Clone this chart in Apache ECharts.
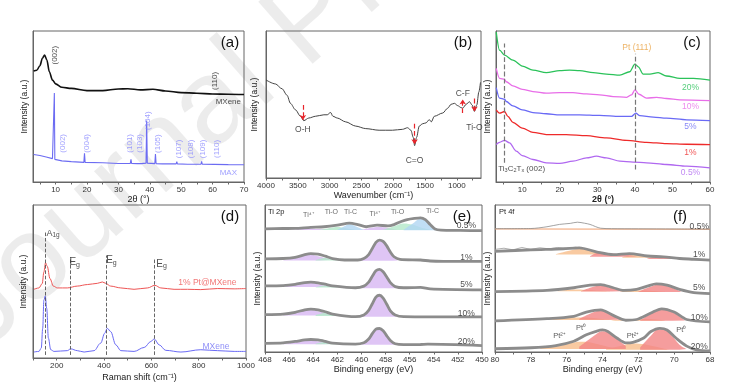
<!DOCTYPE html>
<html><head><meta charset="utf-8">
<script src="https://cdn.jsdelivr.net/npm/echarts@6/dist/echarts.min.js"></script>
<style>html,body{margin:0;padding:0;background:#fff}#c{width:732px;height:385px}</style>
</head><body><div id="c"></div>
<script>
// ---------- (a) XRD ----------
const aMxeneX = [3, 4, 5, 5.8, 6.5, 7.2, 8, 9, 10, 12, 15, 20, 25, 30, 33, 37, 41, 45, 50, 55, 60, 65, 70];
const aMxeneY = [73.5, 74, 77, 82, 84, 81, 73, 67.5, 65, 62.7, 62, 60.5, 60.5, 61.6, 61.8, 61, 61.4, 60.3, 59.2, 58.8, 58.3, 58.1, 57.9];
const aMaxX = [3, 5, 7, 9, 9.45, 9.6, 9.75, 12, 15, 19, 19.2, 19.4, 25, 30, 33.8, 34, 34.2, 36, 37.3, 37.5, 37.7, 38.8, 39, 39.2, 41.6, 41.8, 42, 44, 48.4, 48.6, 48.8, 52, 56.3, 56.5, 56.7, 60.5, 65, 70];
const aMaxY = [18.2, 17.5, 16.5, 15.5, 15, 59, 15, 14, 13.5, 13, 19, 13, 12.7, 12.3, 12.3, 15, 12.3, 12.2, 12.2, 13.5, 12.2, 12.5, 40.8, 12.5, 12.2, 18.6, 12.2, 12, 12, 13.4, 12, 11.8, 11.8, 13.6, 11.8, 11.7, 11.5, 11.4];
const aMaxLabels = ['(002)', '(004)', '(101)', '(103)', '(104)', '(105)', '(107)', '(108)', '(109)', '(110)'];
const aMaxLabelX = [12.2, 19.9, 33.7, 36.9, 39.3, 42.4, 49.3, 53, 56.8, 61.3];
const aMaxLabelY = [25.6, 25.6, 25.6, 25.6, 40.6, 25.4, 21.9, 21.9, 21.9, 21.9];
const aTicks = [10, 20, 30, 40, 50, 60, 70];

// ---------- (b) FTIR ----------
const bX = [4000, 3853, 3748, 3669, 3616, 3537, 3458, 3406, 3327, 3221, 3090, 3037, 2985, 2948, 2880, 2748, 2590, 2432, 2222, 2012, 1854, 1775, 1722, 1685, 1664, 1633, 1591, 1538, 1485, 1433, 1401, 1354, 1222, 1143, 1091, 1038, 986, 933, 907, 854, 802, 760, 723, 686, 654, 628];
const bY = [66.7, 64, 60.7, 56.3, 50.8, 46.4, 42, 39, 40.8, 42, 43, 43, 44.6, 42, 40.8, 38.2, 35.3, 33.6, 32.5, 32.5, 33.1, 34.2, 32.5, 27.6, 22, 27.6, 35.3, 36.9, 37.5, 39.7, 38.2, 42, 44.2, 47.5, 50.1, 50.8, 49.2, 47.9, 47.5, 50.1, 51.9, 49.7, 45.3, 49.7, 58.5, 65.1];
const bBands = ['O-H', 'C=O', 'C-F', 'Ti-O'];
const bBandX = [3420, 1664, 907, 723];
const bArrowFrom = [49.7, 36.9, 44.2, 54];
const bArrowTo = [39.5, 23, 53.4, 45.3];
const bBandLabelY = [33.1, 12.1, 57.4, 34.2];
const bTicks = [1000, 1500, 2000, 2500, 3000, 3500, 4000];

// ---------- (c) XRD Pt@MXene ----------
const cGreenX = [3.06, 3.95, 5.28, 7.5, 10, 12.85, 16.4, 19.96, 22.6, 25.3, 28.9, 32.4, 36, 38.6, 40, 40.9, 42.2, 44, 46.2, 48.4, 52, 55.6, 60];
const cGreenY = [99.3, 87.3, 84, 80.7, 76.8, 74.1, 72.4, 73.7, 74.1, 73.7, 72.4, 71.5, 70.8, 73, 78.1, 76.3, 71.5, 71.5, 72.4, 70.2, 68.6, 68.6, 67.5];
const cMagX = [3.06, 3.95, 5.28, 5.73, 7.5, 10, 12.85, 16.4, 19.96, 23.5, 27.1, 30.6, 34.2, 37.8, 39.1, 40, 41.1, 43.1, 45.8, 48.4, 52, 60];
const cMagY = [75.2, 68.6, 68, 66.4, 63.6, 61.4, 59.9, 58.8, 59.2, 59.2, 58.3, 57.7, 56.6, 56.1, 57.7, 61, 58.1, 55.5, 56.1, 55.3, 54.4, 53.9];
const cBlueX = [3.06, 3.95, 5.28, 5.73, 7.5, 10, 12.85, 16.4, 19.96, 25.3, 30.6, 36, 39.1, 40.25, 41.3, 44.9, 48.4, 53.8, 60];
const cBlueY = [62.5, 55.5, 54.8, 53.3, 50.4, 47.8, 46, 45.2, 44.5, 44.5, 44.1, 43.4, 43.4, 45.6, 43.9, 43, 42.3, 41.2, 40.6];
const cRedX = [3.06, 3.95, 5.28, 6.17, 7.5, 10, 12.85, 16.4, 21.7, 27.1, 32.4, 37.8, 43.1, 48.4, 53.8, 60];
const cRedY = [47.8, 45.6, 46.7, 43.4, 39.5, 35.7, 32.9, 31.4, 31.4, 30.7, 29.2, 27.6, 26.3, 25.4, 25, 24.8];
const cPurX = [3.06, 3.95, 5.28, 6.6, 8.4, 10, 12.85, 16.4, 19.96, 23.5, 27.1, 29.75, 32.4, 36, 39.5, 43.1, 48.4, 53.8, 60];
const cPurY = [24.8, 26.3, 27.6, 25.9, 20.4, 17.5, 14.9, 12.7, 12.3, 13.8, 16, 17.1, 16, 13.8, 13.2, 12.7, 11.6, 10.5, 9.4];
const cSamples = ['20%', '10%', '5%', '1%', '0.5%'];
const cSampleLabelY = [62.7, 49.6, 36.4, 19.7, 6.1];
const cRefLineX = [5.3, 40];
const cRefLineY0 = [12.7, 8.3];
const cRefLineY1 = [91.7, 85];
const cTicks = [10, 20, 30, 40, 50, 60];

// ---------- (d) Raman ----------
const dRedX = [104, 125, 139, 146, 153, 160, 172, 186, 203, 245, 287, 330, 372, 393, 407, 428, 471, 527, 584, 615, 640, 696, 753, 809, 880, 950, 1000];
const dRedY = [44.9, 45.8, 48.6, 56.2, 62.2, 60, 51.8, 47, 45.8, 45.8, 47, 48, 48.8, 49.7, 48.8, 47, 45.8, 44.9, 45.8, 47.5, 45.8, 44.9, 44.9, 44.7, 45.4, 45.2, 45.4];
const dBlueX = [104, 125, 135, 141, 146, 152, 158, 165, 175, 189, 245, 259, 287, 316, 358, 386, 403, 414, 428, 450, 471, 527, 570, 598, 612, 633, 661, 725, 809, 880, 950, 1000];
const dBlueY = [3.9, 4.3, 6.5, 19.4, 37.8, 40.6, 32.4, 13, 5.4, 4.3, 4.8, 6, 4.8, 3.9, 4.8, 9.7, 16.2, 19.4, 17.3, 8.6, 4.8, 4.3, 6.9, 10.8, 12.5, 8.6, 5, 3.9, 5.4, 4.8, 4.3, 4.3];
const dModeX = [150, 257, 409, 612];
const dModeTop = [83, 66, 67, 64.8];
const dModeLabelX = [169, 266, 421, 633];
const dModeLabelY = [81.6, 62.6, 63.7, 61.5];
const dTicks = [200, 400, 600, 800, 1000];

// ---------- (e) Ti 2p XPS ----------
const eEnv05X = [468, 466.5, 465.5, 464.2, 463.1, 462, 461, 460.3, 459.6, 458.7, 457.8, 457.3, 456.7, 456.2, 455.6, 455.1, 454.7, 454.3, 453.9, 453.4, 451.8, 450];
const eEnv05Y = [83.7, 84, 84.1, 84.8, 85.2, 86.3, 87.7, 86.7, 85.2, 86.3, 85.8, 86.7, 88.8, 90.1, 90.9, 91.3, 90.1, 86.7, 83.7, 82.9, 82.7, 82.5];
const eEnv1X = [468, 466.5, 465.5, 464.7, 464.2, 463.6, 463, 462.4, 461.4, 460.3, 459.8, 459.4, 459.1, 458.8, 458.5, 458.2, 457.9, 457.6, 457.3, 456.8, 455.1, 454.3, 453.2, 450];
const eEnv1Y = [63.4, 63.6, 64.4, 66.2, 66.9, 66.6, 65.2, 63.6, 62.6, 62.6, 63.6, 66.3, 70.4, 74.6, 76.1, 75.2, 72.2, 68, 64.8, 63, 62.6, 61.9, 61.7, 61.7];
const eEnv5X = [468, 466.5, 465.5, 464.7, 464.2, 463.6, 463, 462.4, 460.5, 459.8, 459.4, 459.1, 458.8, 458.5, 458.2, 457.9, 457.6, 457.2, 456.5, 455.1, 454.3, 450];
const eEnv5Y = [45, 45.2, 46, 47.2, 47.5, 47.1, 46.1, 45, 43.7, 44.8, 47.5, 51.5, 55.2, 56.2, 54.6, 51, 47.2, 44.5, 43.7, 44, 43, 42.3];
const eEnv10X = [468, 466.5, 465.5, 464.7, 464.2, 463.6, 463, 462.4, 460.5, 459.8, 459.4, 459.1, 458.8, 458.5, 458.2, 457.9, 457.6, 457.2, 456.5, 455.1, 450];
const eEnv10Y = [25.4, 25.8, 27, 28.7, 29.2, 28.7, 27.4, 25.8, 24, 25.2, 28.3, 32.8, 37.3, 38.6, 36.7, 32.5, 28, 25.2, 24, 23.9, 23.9];
const eEnv20X = [468, 466.5, 465.5, 464.7, 464.2, 463.6, 463, 462.4, 460.5, 459.8, 459.4, 459.1, 458.8, 458.5, 458.2, 457.9, 457.6, 457.2, 456.5, 455.1, 454.5, 450];
const eEnv20Y = [5.9, 6.2, 7.2, 8.2, 8.5, 8.2, 7.2, 6, 5.4, 6.3, 8.8, 12.5, 15.6, 16, 14.5, 11, 7.8, 5.6, 5, 5.1, 5.3, 4.4];
// filled components, one [x,y] list per peak, each with the baseline it fills to
const ePurple = [
  [[466, 83], [465, 83.6], [464.3, 84], [463.5, 83.6], [462.5, 83]],
  [[460, 83], [459.2, 84.5], [458.6, 85], [457.8, 84.3], [457, 83]],
  [[466.5, 62.5], [465.5, 64], [464.5, 66.3], [463.5, 65], [462.5, 62.8]],
  [[460, 62.3], [459.4, 65.8], [459, 71], [458.6, 75.2], [458.2, 74.6], [457.8, 70.5], [457.4, 64.8], [457, 62.3]],
  [[466.5, 44.5], [465.5, 45.8], [464.5, 47.2], [463.5, 46], [462.5, 44.5]],
  [[460, 43.5], [459.4, 47], [459, 52.5], [458.6, 55.6], [458.2, 54.2], [457.8, 49.5], [457.3, 44.8], [457, 43.5]],
  [[466.5, 25], [465.5, 26.8], [464.5, 28.8], [463.5, 27.5], [462.5, 25]],
  [[460, 24], [459.4, 28], [459, 34.5], [458.6, 38], [458.2, 36.2], [457.8, 30.5], [457.3, 25.3], [457, 24]],
  [[466.5, 5.5], [465.5, 7], [464.5, 8.2], [463.5, 7.2], [462.5, 5.5]],
  [[460, 5], [459.4, 8.5], [459, 14], [458.6, 15.8], [458.2, 14], [457.8, 9.5], [457.3, 5.5], [457, 5]]
];
const ePurpleBase = [83, 83, 62.3, 62, 44.3, 43.4, 24.8, 23.9, 5.3, 4.9];
const eGreen = [
  [[463.5, 83], [462.5, 84.5], [462, 85], [461.3, 84.2], [460.5, 83]],
  [[458.2, 83], [457.3, 85.5], [456.5, 87.5], [455.7, 86.5], [455, 84.5], [454.2, 83]],
  [[463.8, 62.5], [463, 64], [462.3, 63], [461.5, 62.5]],
  [[463.8, 44], [463, 45.3], [462.3, 44.5], [461.5, 44]],
  [[463.8, 25], [463, 26.5], [462.3, 25.5], [461.5, 24.5]],
  [[463.8, 5.5], [463, 6.8], [462.3, 6], [461.5, 5.3]]
];
const eGreenBase = [83, 83, 62.3, 43.8, 24.5, 5.2];
const eBlue = [
  [[462, 83], [461.3, 86], [461, 87], [460.5, 85.5], [459.8, 83]],
  [[456.5, 83], [455.8, 87], [455.1, 90.5], [454.6, 89], [454, 85], [453.5, 83]],
  [[456, 62], [455.2, 62.8], [454.5, 62]],
  [[456, 43.5], [455.2, 44.2], [454.5, 43.3]]
];
const eBlueBase = [83, 82.8, 61.9, 43.3];
const eSamples = ['0.5%', '1%', '5%', '10%', '20%'];
const eSampleLabelY = [85.8, 64.3, 45.5, 26, 6.8];
const eCompNames = ['Ti⁴⁺', 'Ti-O', 'Ti-C', 'Ti⁴⁺', 'Ti-O', 'Ti-C'];
const eCompX = [464.4, 462.5, 460.9, 458.9, 457, 454.1];
const eCompY = [93.2, 95, 95, 94, 95.5, 95.8];
const eTicks = [450, 452, 454, 456, 458, 460, 462, 464, 466, 468];

// ---------- (f) Pt 4f XPS ----------
const fRaw05X = [80, 78, 77.1, 76.4, 75.8, 75.4, 75, 74.7, 74.1, 73.5, 72, 70, 68];
const fRaw05Y = [83.9, 84, 85.2, 86.8, 87.5, 88.3, 87.6, 86.8, 84.2, 83.9, 83.8, 83.7, 83.6];
const fRaw1X = [80, 79.5, 79, 78.5, 78, 77.5, 77, 76.5, 76, 75.5, 75, 74.5];
const fRaw1Y = [69.8, 70.6, 69.5, 71.1, 69.8, 70.9, 70.2, 71.1, 70.6, 71.3, 70.2, 68.4];
const fEnv1X = [80, 78, 76.2, 75.3, 74.3, 73.4, 72.5, 71.5, 70.6, 69.7, 68.9, 68];
const fEnv1Y = [68.4, 69.5, 70.2, 70.9, 68, 66.2, 66.9, 65.3, 64.7, 63.6, 63.1, 62.5];
const fEnv5X = [80, 77.1, 75.6, 74.7, 74.1, 73.4, 72.8, 72.1, 71.5, 71, 70.4, 69.7, 68.9, 68];
const fEnv5Y = [41.1, 41.9, 43.7, 45.5, 45.9, 43.7, 41.9, 42.6, 44.8, 46.4, 45.5, 42.6, 40.4, 39.7];
const fEnv10X = [80, 77.1, 75.6, 74.9, 74.1, 73.4, 72.7, 72.1, 71.3, 70.7, 70, 69.3, 68];
const fEnv10Y = [21.2, 22.7, 24.3, 27.2, 28.7, 24.9, 21.6, 22.1, 26.5, 29.4, 27.2, 22.1, 20.5];
const fEnv20X = [80, 78, 76.6, 75.6, 74.9, 74.4, 74, 73.7, 73.2, 72.7, 72.3, 71.7, 71.3, 70.8, 70.4, 69.9, 69.3, 68.7, 68];
const fEnv20Y = [2.2, 2.9, 4.4, 7.3, 11.7, 13.9, 15, 13.9, 9.5, 6.2, 6.6, 9.5, 13.9, 16.1, 15, 9.5, 4, 1.3, 0.7];
const fRed = [
  [[74.7, 65.2], [74.2, 67.6], [73.5, 67], [72.8, 66.3], [72.1, 65]],
  [[71.5, 63.5], [70.8, 64.9], [70.2, 64.4], [69.4, 63.2]],
  [[75.2, 41.3], [74.6, 44], [74.1, 45.2], [73.5, 43.5], [72.9, 41.3]],
  [[72, 41], [71.4, 44], [70.9, 45.8], [70.3, 44.5], [69.6, 40.8]],
  [[75.3, 22.5], [74.7, 26], [74.1, 28.2], [73.5, 25.5], [72.8, 22]],
  [[71.9, 21.5], [71.3, 26], [70.7, 29], [70.1, 27], [69.4, 21.5]],
  [[75.3, 3.5], [74.7, 9], [74.2, 13.5], [74, 14.2], [73.7, 13.5], [73.2, 9], [72.7, 4]],
  [[71.9, 3], [71.3, 11], [70.9, 15.3], [70.6, 15.3], [70.2, 12], [69.7, 5], [69.3, 2]]
];
const fRedBase = [64.8, 63.2, 41.2, 40.8, 22, 21.3, 2, 1.5];
const fOrange = [
  [[76.6, 66.6], [75.8, 69], [75.2, 70.2], [74.6, 69], [74, 66.3]],
  [[72.9, 64.4], [72.3, 66], [71.7, 65.8], [71.1, 64.2]],
  [[76.5, 41.5], [75.5, 42.5], [74.5, 42], [73.5, 41.2]],
  [[73, 41.2], [72.2, 42], [71.2, 41.5], [70.5, 40.9]],
  [[77, 22], [76, 23.3], [75, 23.5], [74, 22.5], [73, 21.8]],
  [[73.5, 21.5], [72.5, 22.3], [71.5, 22.4], [70.5, 21.3]],
  [[77.5, 2.5], [76.5, 4], [75.6, 6.5], [75, 7], [74.3, 5.5], [73.5, 3], [73, 2]],
  [[73.8, 2], [73, 4], [72.4, 5.8], [71.8, 5.5], [71, 3.5], [70.3, 1.5]]
];
const fOrangeBase = [66.4, 64.2, 41.3, 40.9, 21.8, 21.2, 2, 1.5];
const fSamples = ['0.5%', '1%', '5%', '10%', '20%'];
const fSampleLabelY = [85.3, 66.5, 43.7, 23.5, 3.5];
const fPtNames = ['Pt²⁺', 'Pt⁰', 'Pt²⁺', 'Pt⁰'];
const fPtX = [76.4, 75.2, 72.3, 69.6];
const fPtY = [11, 16.6, 11, 15];
const fTicks = [68, 70, 72, 74, 76, 78, 80];

// ================= build =================
const FONT = '"Liberation Sans", Arial, sans-serif';
const P = (xs, ys) => xs.map((x, i) => [x, ys[i]]);
const range = (a, b, s) => { const r = []; for (let v = a; v <= b + 1e-9; v += s) r.push(+v.toFixed(3)); return r; };

const gridBoxes = [
  [33, 31, 211, 151], [266, 31, 215, 147], [496, 31, 214, 151],
  [33, 205, 213, 153], [265, 205, 217, 147], [495, 205, 215, 147]
];
const grid = gridBoxes.map(b => ({ left: b[0], top: b[1], width: b[2], height: b[3], show: true, borderColor: '#666', borderWidth: 1 }));

function xAxis(gi, min, max, labels, ticks, name, inverse) {
  return {
    gridIndex: gi, type: 'value', min, max, inverse: !!inverse, splitLine: { show: false },
    axisLine: { show: true, onZero: false, lineStyle: { color: '#666', width: 1 } },
    axisTick: { show: true, length: 2.5, customValues: ticks, lineStyle: { color: '#666' } },
    axisLabel: { fontSize: 8, color: '#333', margin: 4, fontFamily: FONT, customValues: labels, hideOverlap: false, formatter: v => String(v) },
    name, nameLocation: 'middle', nameGap: 13,
    nameTextStyle: { fontSize: 9, color: '#222', fontFamily: FONT }
  };
}
function yAxis(gi, gap) {
  return {
    gridIndex: gi, type: 'value', min: 0, max: 100,
    axisLine: { show: true, lineStyle: { color: '#666' } }, axisTick: { show: false },
    axisLabel: { show: false }, splitLine: { show: false },
    name: 'Intensity (a.u.)', nameLocation: 'middle', nameGap: gap, nameRotate: 90,
    nameTextStyle: { fontSize: 8.5, color: '#222', fontFamily: FONT }
  };
}
const xAxes = [
  xAxis(0, 2.8, 70, aTicks, range(5, 70, 5), '2θ (°)'),
  xAxis(1, 620, 4000, bTicks, range(750, 4000, 250), 'Wavenumber (cm⁻¹)', true),
  xAxis(2, 3, 60, cTicks, range(5, 60, 5), '2θ (°)'),
  xAxis(3, 100, 1000, dTicks, range(100, 1000, 100), 'Raman shift (cm⁻¹)'),
  xAxis(4, 450, 468, eTicks, eTicks, 'Binding energy (eV)', true),
  xAxis(5, 68, 80, fTicks, range(68, 80, 1), 'Binding energy (eV)', true)
];
xAxes[2].nameTextStyle.fontWeight = 'bold';
xAxes[3].nameGap = 15;
const yAxes = [yAxis(0, 4), yAxis(1, 7), yAxis(2, 4), yAxis(3, 5), yAxis(4, 3), yAxis(5, 3)];

function line(gi, data, color, w, extra) {
  return Object.assign({
    type: 'line', xAxisIndex: gi, yAxisIndex: gi, data, symbol: 'none', showSymbol: false,
    lineStyle: { color, width: w }, itemStyle: { color }, silent: true, z: 3
  }, extra || {});
}
function area(gi, data, color, origin) {
  return line(gi, data, color, 0, {
    smooth: 0.4, z: 2, lineStyle: { width: 0, color },
    areaStyle: { color, opacity: 0.8, origin }
  });
}
function txt(gi, x, y, text, opt) {
  return {
    type: 'scatter', xAxisIndex: gi, yAxisIndex: gi, data: [[x, y]], symbolSize: 0, silent: true, z: 6,
    label: Object.assign({ show: true, position: 'inside', formatter: text, fontSize: 8, color: '#333', fontFamily: FONT }, opt || {})
  };
}
function vlines(gi, xs, y0s, y1s, color, arrow, w) {
  return line(gi, [], color, 1, {
    markLine: {
      silent: true, animation: false, symbol: arrow ? ['none', 'arrow'] : ['none', 'none'], symbolSize: 5,
      label: { show: false }, lineStyle: { type: 'dashed', color, width: w || 1 },
      data: xs.map((x, i) => [{ coord: [x, y0s[i]] }, { coord: [x, y1s[i]] }])
    }
  });
}

const S = [];
// (a)
S.push(line(0, P(aMxeneX, aMxeneY), '#111', 1.6, { smooth: 0.3, smoothMonotone: 'x' }));
S.push(line(0, P(aMaxX, aMaxY), '#6c6cf2', 1.1));
S.push(txt(0, 9.9, 84, '(002)', { rotate: 90, color: '#222' }));
S.push(txt(0, 60.7, 66.9, '(110)', { rotate: 90, color: '#222' }));
S.push(txt(0, 65, 53.2, 'MXene', { color: '#222' }));
aMaxLabels.forEach((t, i) => S.push(txt(0, aMaxLabelX[i], aMaxLabelY[i], t, { rotate: 90, color: '#8a8aff' })));
S.push(txt(0, 65, 6.2, 'MAX', { color: '#8a8aff' }));

// (b)
S.push(line(1, P(bX, bY), '#444', 1, { smooth: 0.3, smoothMonotone: 'x' }));
S.push(vlines(1, bBandX, bArrowFrom, bArrowTo, '#e8242a', true, 1.2));
bBands.forEach((t, i) => S.push(txt(1, bBandX[i], bBandLabelY[i], t, { color: '#222', fontSize: 8.5 })));

// (c)
const cCols = ['#2bc25a', '#e86ee8', '#6a6af5', '#ee2a2a', '#b068f0'];
[[cGreenX, cGreenY], [cMagX, cMagY], [cBlueX, cBlueY], [cRedX, cRedY], [cPurX, cPurY]].forEach((d, i) =>
  S.push(line(2, P(d[0], d[1]), cCols[i], 1.3, { smooth: 0.3, smoothMonotone: 'x' })));
S.push(vlines(2, cRefLineX, cRefLineY0, cRefLineY1, '#777', false, 1.2));
cSamples.forEach((t, i) => S.push(txt(2, 54.8, cSampleLabelY[i], t, { color: cCols[i], fontSize: 8.5 })));
S.push(txt(2, 40.5, 88.8, 'Pt (111)', { color: '#e8a040', fontSize: 8.5 }));
S.push(txt(2, 3.6, 8.8, '{n|Ti}{s|3}{n|C}{s|2}{n|T}{s|x}{n| (002)}', {
  position: 'right', distance: 0, color: '#222',
  rich: { n: { fontSize: 8, color: '#222', fontFamily: FONT }, s: { fontSize: 5.5, color: '#222', verticalAlign: 'bottom', padding: [4, 0, 0, 0], fontFamily: FONT } }
}));

// (d)
S.push(line(3, P(dRedX, dRedY), '#ee5555', 1, { smooth: 0.35, smoothMonotone: 'x' }));
S.push(line(3, P(dBlueX, dBlueY), '#6a6af5', 1, { smooth: 0.35, smoothMonotone: 'x' }));
S.push(vlines(3, dModeX, dModeX.map(() => 2), dModeTop, '#555', false, 0.9));
const richSub = { n: { fontSize: 10, color: '#222', fontFamily: FONT }, s: { fontSize: 7, color: '#222', padding: [5, 0, 0, 0], fontFamily: FONT } };
S.push(txt(3, dModeLabelX[0] - 12, dModeLabelY[0], '{n|A}{s|1g}', { position: 'right', distance: 0, rich: { n: { fontSize: 9, color: '#222', fontFamily: FONT }, s: { fontSize: 6.5, color: '#222', padding: [4, 0, 0, 0], fontFamily: FONT } } }));
for (let i = 1; i < 4; i++) S.push(txt(3, dModeLabelX[i] - 12, dModeLabelY[i], '{n|E}{s|g}', { position: 'right', distance: 0, rich: richSub }));
S.push(txt(3, 837, 49.2, '1% Pt@MXene', { color: '#ee5555', fontSize: 8.5 }));
S.push(txt(3, 873, 7.6, 'MXene', { color: '#7070f5', fontSize: 8.5 }));

// (e)
ePurple.forEach((d, i) => S.push(area(4, d, '#d7b6f3', ePurpleBase[i])));
eGreen.forEach((d, i) => S.push(area(4, d, '#b3e9c9', eGreenBase[i])));
eBlue.forEach((d, i) => S.push(area(4, d, '#b0d6f2', eBlueBase[i])));
[[eEnv05X, eEnv05Y], [eEnv1X, eEnv1Y], [eEnv5X, eEnv5Y], [eEnv10X, eEnv10Y], [eEnv20X, eEnv20Y]].forEach(d =>
  S.push(line(4, P(d[0], d[1]), '#8c8c8c', 2.8, { smooth: 0.25, z: 4 })));
eSamples.forEach((t, i) => S.push(txt(4, 451.3, eSampleLabelY[i], t, { color: '#222', fontSize: 8.5 })));
eCompNames.forEach((t, i) => S.push(txt(4, eCompX[i], eCompY[i], t, { color: '#444', fontSize: 7 })));

// (f)
fOrange.forEach((d, i) => S.push(area(5, d, '#f7bd8a', fOrangeBase[i])));
fRed.forEach((d, i) => S.push(area(5, d, '#f28484', fRedBase[i])));
S.push(line(5, [[80, 83.7], [68, 83.5]], '#f0a070', 1));
S.push(line(5, P(fRaw05X, fRaw05Y), '#8c8c8c', 0.8, { smooth: 0.3 }));
S.push(line(5, P(fRaw1X, fRaw1Y), '#9a9a9a', 0.8));
[[fEnv1X, fEnv1Y], [fEnv5X, fEnv5Y], [fEnv10X, fEnv10Y], [fEnv20X, fEnv20Y]].forEach(d =>
  S.push(line(5, P(d[0], d[1]), '#8c8c8c', 2.8, { smooth: 0.3, z: 4 })));
fSamples.forEach((t, i) => S.push(txt(5, 68.6, fSampleLabelY[i], t, { color: '#222', fontSize: 8.5 })));
fPtNames.forEach((t, i) => S.push(txt(5, fPtX[i], fPtY[i], t, { color: '#333', fontSize: 7.5 })));

const panelLetters = [['(a)', 230, 43], ['(b)', 463, 43], ['(c)', 692, 43], ['(d)', 230, 217], ['(e)', 462, 217], ['(f)', 680, 217]];
const graphic = [{
  type: 'text', x: 2, y: 372, rotation: 0.72, silent: true, z: -10, zlevel: 0,
  style: { text: 'Journal Pre-proof', fontSize: 120, fontFamily: FONT, fill: 'rgba(0,0,0,0.075)', textVerticalAlign: 'bottom', verticalAlign: 'bottom' }
}].concat(panelLetters.map(p => ({
  type: 'text', x: p[1], y: p[2], silent: true, z: 10,
  style: { text: p[0], fontSize: 15, fontFamily: FONT, fill: '#111', textAlign: 'center', align: 'center', textVerticalAlign: 'middle', verticalAlign: 'middle' }
}))).concat([
  { type: 'text', x: 268, y: 212, z: 10, silent: true, style: { text: 'Ti 2p', fontSize: 7.5, fontFamily: FONT, fill: '#222', verticalAlign: 'middle', textVerticalAlign: 'middle' } },
  { type: 'text', x: 499, y: 212, z: 10, silent: true, style: { text: 'Pt 4f', fontSize: 7.5, fontFamily: FONT, fill: '#222', verticalAlign: 'middle', textVerticalAlign: 'middle' } }
]);

const chart = echarts.init(document.getElementById('c'), null, { renderer: 'canvas' });
chart.setOption({
  animation: false, backgroundColor: '#fff', textStyle: { fontFamily: FONT },
  grid, xAxis: xAxes, yAxis: yAxes, series: S, graphic
});
</script></body></html>
